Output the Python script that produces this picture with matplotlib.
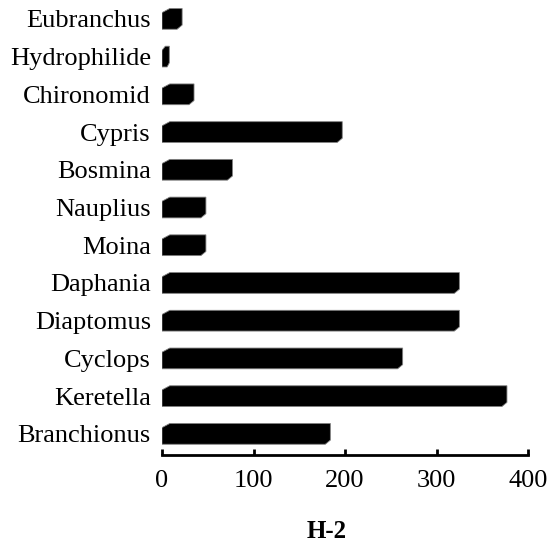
import matplotlib
matplotlib.use("Agg")
import matplotlib.pyplot as plt
from matplotlib.patches import Polygon

categories = ["Branchionus", "Keretella", "Cyclops", "Diaptomus", "Daphania",
              "Moina", "Nauplius", "Bosmina", "Cypris", "Chironomid",
              "Hydrophilide", "Eubranchus"]
values = [184, 377, 263, 325, 325, 48, 48, 77, 197, 35, 8, 22]
xticks = [0, 100, 200, 300, 400]
title = "H-2"

plt.rcParams['font.family'] = ['Liberation Serif', 'DejaVu Serif']

fig = plt.figure(figsize=(5.58, 5.48), dpi=100)
ax = fig.add_axes([162/558, 1 - 455/548, (528 - 162)/558, 455/548])

h = 0.55
for i, v in enumerate(values):
    dx = min(8.5, v * 0.45)
    dx2 = min(5.5, v * 0.3)
    dy = 0.11
    top = i + h/2
    bot = i - h/2
    pts = [(0, bot), (0, top - dy), (dx, top), (v, top), (v, bot + dy), (v - dx2, bot)]
    ax.add_patch(Polygon(pts, closed=True, facecolor='black', edgecolor='#808080', linewidth=0.6))

ax.set_xlim(0, 400)
ax.set_ylim(-0.56, 11.5)
ax.set_yticks(range(len(categories)))
ax.set_yticklabels(categories, fontsize=19)
ax.set_xticks(xticks)
ax.set_xticklabels([str(t) for t in xticks], fontsize=19)
ax.tick_params(axis='y', length=0, pad=8)
ax.tick_params(axis='x', direction='in', length=4, width=2, pad=11)
for s in ['top', 'right', 'left']:
    ax.spines[s].set_visible(False)
ax.spines['bottom'].set_linewidth(2)

fig.text(327/558, 1 - 532/548, title, ha='center', va='center', fontsize=18, fontweight='bold')

fig.savefig("out.png", dpi=100)
